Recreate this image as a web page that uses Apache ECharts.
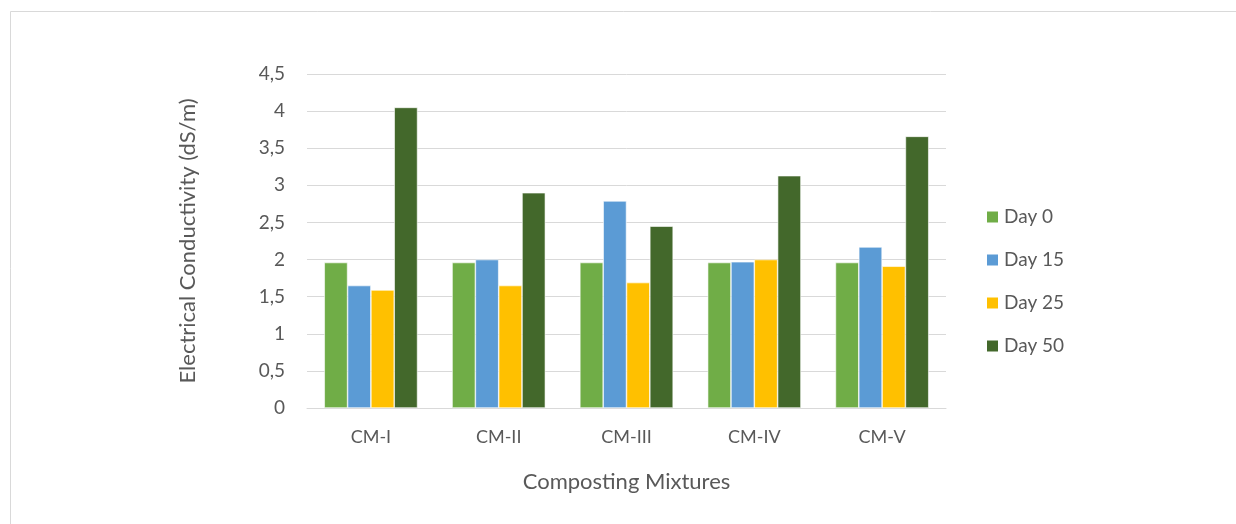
<!DOCTYPE html>
<html>
<head>
<meta charset="utf-8">
<style>
  html, body { margin: 0; padding: 0; background: #ffffff; }
  #chart { width: 1236px; height: 524px; }
</style>
<script src="https://cdn.jsdelivr.net/npm/echarts@6/dist/echarts.min.js"></script>
</head>
<body>
<div id="chart"></div>
<script>
// Composting mixtures on the category axis
const categories = ['CM-I', 'CM-II', 'CM-III', 'CM-IV', 'CM-V'];

// Electrical conductivity (dS/m) per sampling day
const day0  = [1.96, 1.96, 1.96, 1.96, 1.96];
const day15 = [1.65, 2.00, 2.79, 1.97, 2.17];
const day25 = [1.59, 1.65, 1.69, 2.00, 1.91];
const day50 = [4.05, 2.90, 2.45, 3.13, 3.66];

const seriesNames = ['Day 0', 'Day 15', 'Day 25', 'Day 50'];

// Value-axis labels use a decimal comma
const yTickLabels = ['0', '0,5', '1', '1,5', '2', '2,5', '3', '3,5', '4', '4,5'];

const colors = ['#70AD47', '#5B9BD5', '#FFC000', '#43682B'];
const textColor = '#595959';
const fontFamily = 'Lato, "Open Sans", sans-serif';

const chart = echarts.init(document.getElementById('chart'));

const values = [day0, day15, day25, day50];
const series = values.map((data, i) => ({
  name: seriesNames[i],
  type: 'bar',
  data: data,
  barGap: '0%',
  barCategoryGap: '27%',
  itemStyle: { color: colors[i], borderColor: '#ffffff', borderWidth: 0.6 }
}));

chart.setOption({
  animation: false,
  backgroundColor: '#ffffff',
  textStyle: { fontFamily: fontFamily, color: textColor },
  graphic: [{
    type: 'rect',
    shape: { x: 10.5, y: 11.5, width: 1400, height: 700 },
    style: { fill: 'none', stroke: '#d9d9d9', lineWidth: 1 },
    silent: true
  }],
  grid: { left: 307, right: 290, top: 74, bottom: 116 },
  legend: {
    orient: 'vertical',
    left: 985,
    top: 207,
    padding: 0,
    itemWidth: 13,
    itemHeight: 13,
    itemGap: 23,
    icon: 'rect',
    data: seriesNames,
    textStyle: { fontFamily: fontFamily, fontSize: 19, color: textColor, lineHeight: 20 }
  },
  xAxis: {
    type: 'category',
    data: categories,
    name: 'Composting Mixtures',
    nameLocation: 'middle',
    nameGap: 63,
    nameTextStyle: { fontFamily: fontFamily, fontSize: 22, color: textColor },
    axisLine: { show: true, lineStyle: { color: '#d9d9d9', width: 1 } },
    axisTick: { show: false },
    axisLabel: { margin: 20, fontFamily: fontFamily, fontSize: 18, color: textColor }
  },
  yAxis: {
    type: 'value',
    min: 0,
    max: 4.5,
    interval: 0.5,
    name: 'Electrical Conductivity (dS/m)',
    nameLocation: 'middle',
    nameGap: 108,
    nameTextStyle: { fontFamily: fontFamily, fontSize: 22, color: textColor },
    axisLine: { show: false },
    axisTick: { show: false },
    splitLine: { lineStyle: { color: '#d9d9d9', width: 1 } },
    axisLabel: {
      margin: 22,
      fontFamily: fontFamily,
      fontSize: 19,
      color: textColor,
      formatter: (v) => yTickLabels[Math.round(v / 0.5)]
    }
  },
  series: series
});
</script>
</body>
</html>
